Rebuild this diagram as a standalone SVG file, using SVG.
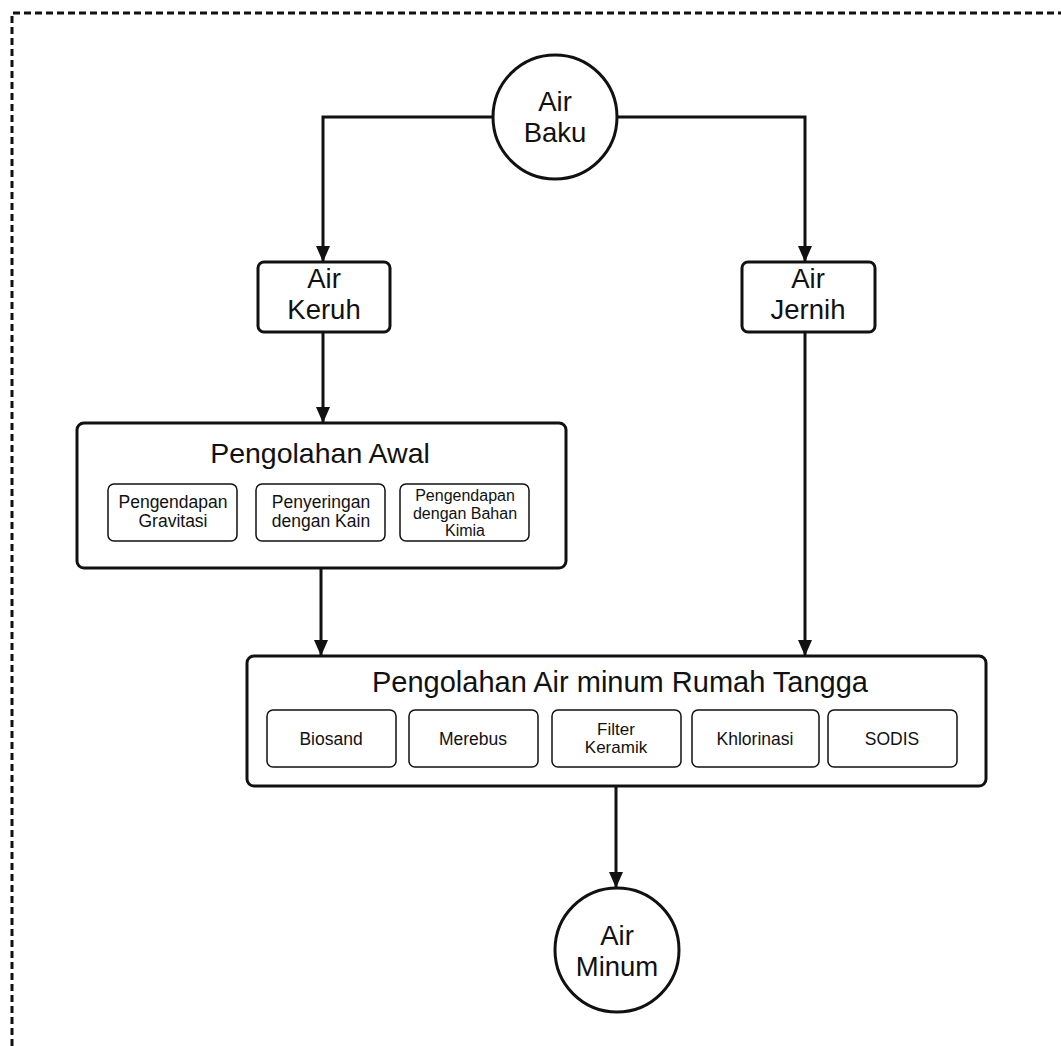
<svg xmlns="http://www.w3.org/2000/svg" width="1061" height="1046" viewBox="0 0 1061 1046">
<style>
text{font-family:"Liberation Sans",Arial,sans-serif;fill:#111;text-anchor:middle}
.main{fill:#fff;stroke:#111;stroke-width:3}
.sub{fill:#fff;stroke:#111;stroke-width:1.5}
.awal{font-size:28.5px}
.rt{font-size:29px}
.node{font-size:27.5px}
.circ{font-size:27.5px}
.s17{font-size:17.5px}
.s16{font-size:16px}
.sk{font-size:17px}
.conn{fill:none;stroke:#111;stroke-width:3}
</style>
<defs>
<marker id="ah" markerWidth="16" markerHeight="14" refX="15" refY="7" orient="auto" markerUnits="userSpaceOnUse">
<path d="M0,0 L16,7 L0,14 Z" fill="#111"/>
</marker>
</defs>
<rect width="1061" height="1046" fill="#fff"/>
<path d="M12,1046 V13 H1061" fill="none" stroke="#111" stroke-width="3" stroke-dasharray="7 4"/>
<g id="connectors">
<path class="conn" d="M493,117 H323 V261" marker-end="url(#ah)"/>
<path class="conn" d="M617,117 H805 V261" marker-end="url(#ah)"/>
<path class="conn" d="M323,332 V422" marker-end="url(#ah)"/>
<path class="conn" d="M321,568 V655" marker-end="url(#ah)"/>
<path class="conn" d="M805,332 V655" marker-end="url(#ah)"/>
<path class="conn" d="M616,786 V887" marker-end="url(#ah)"/>
</g>
<g id="air-baku">
<circle class="main" cx="555" cy="117" r="62"/>
<text class="circ" x="555" y="111">Air</text>
<text class="circ" x="555" y="142">Baku</text>
</g>
<g id="air-keruh">
<rect class="main" x="258" y="262" width="132" height="70" rx="6"/>
<text class="node" x="324" y="288">Air</text>
<text class="node" x="324" y="319">Keruh</text>
</g>
<g id="air-jernih">
<rect class="main" x="742" y="262" width="133" height="70" rx="6"/>
<text class="node" x="808" y="288">Air</text>
<text class="node" x="808" y="319">Jernih</text>
</g>
<g id="pengolahan-awal">
<rect class="main" x="77" y="423" width="489" height="145" rx="7"/>
<text class="awal" x="320" y="463">Pengolahan Awal</text>
<g id="pengendapan-gravitasi">
<rect class="sub" x="108" y="484" width="129" height="57" rx="6"/>
<text class="s17" x="173" y="508">Pengendapan</text>
<text class="s17" x="173" y="527">Gravitasi</text>
</g>
<g id="penyeringan-kain">
<rect class="sub" x="256" y="484" width="129" height="57" rx="6"/>
<text class="s17" x="321" y="508">Penyeringan</text>
<text class="s17" x="321" y="527">dengan Kain</text>
</g>
<g id="pengendapan-kimia">
<rect class="sub" x="400" y="484" width="129" height="57" rx="6"/>
<text class="s16" x="465" y="501">Pengendapan</text>
<text class="s16" x="465" y="519">dengan Bahan</text>
<text class="s16" x="465" y="536">Kimia</text>
</g>
</g>
<g id="pengolahan-rumah-tangga">
<rect class="main" x="247" y="656" width="739" height="130" rx="7"/>
<text class="rt" x="620" y="692">Pengolahan Air minum Rumah Tangga</text>
<g id="biosand">
<rect class="sub" x="267" y="710" width="129" height="57" rx="6"/>
<text class="s17" x="331" y="745">Biosand</text>
</g>
<g id="merebus">
<rect class="sub" x="409" y="710" width="129" height="57" rx="6"/>
<text class="s17" x="473" y="745">Merebus</text>
</g>
<g id="filter-keramik">
<rect class="sub" x="552" y="710" width="129" height="57" rx="6"/>
<text class="sk" x="616" y="735">Filter</text>
<text class="sk" x="616" y="753">Keramik</text>
</g>
<g id="khlorinasi">
<rect class="sub" x="692" y="710" width="127" height="57" rx="6"/>
<text class="s17" x="755" y="745">Khlorinasi</text>
</g>
<g id="sodis">
<rect class="sub" x="828" y="710" width="129" height="57" rx="6"/>
<text class="s17" x="892" y="745">SODIS</text>
</g>
</g>
<g id="air-minum">
<circle class="main" cx="617" cy="950" r="62"/>
<text class="circ" x="617" y="945">Air</text>
<text class="circ" x="617" y="976">Minum</text>
</g>
</svg>
